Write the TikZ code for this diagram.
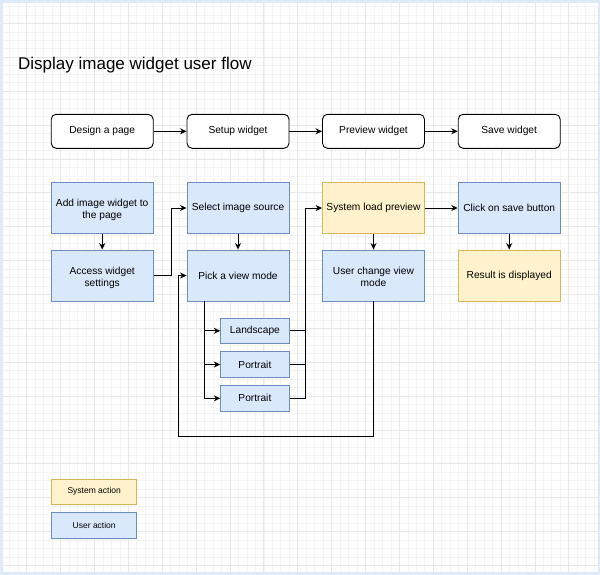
\documentclass[tikz,border=0pt]{standalone}
\usepackage{fontspec}
\setmainfont{Liberation Sans}
\usetikzlibrary{arrows.meta}
\definecolor{ublue}{HTML}{DAE8FC}
\definecolor{ubluedraw}{HTML}{6C8EBF}
\definecolor{syell}{HTML}{FFF2CC}
\definecolor{syelldraw}{HTML}{D6B656}
\definecolor{framecol}{HTML}{DEEAF8}
\definecolor{minorgrid}{HTML}{F4F4F4}
\definecolor{majorgrid}{HTML}{E8E8E8}
\tikzset{
  base/.style={rectangle, inner sep=2pt, align=center, font=\fontsize{10.2}{12.2}\selectfont, line width=0.9pt},
  stage/.style={base, draw=black, fill=white, rounded corners=5pt, minimum width=102pt, minimum height=34pt},
  user/.style={base, draw=ubluedraw, fill=ublue, minimum width=102pt, minimum height=51pt},
  sys/.style={base, draw=syelldraw, fill=syell, minimum width=102pt, minimum height=51pt},
  twoline/.style={text height=21.4pt, text depth=0pt},
  small/.style={base, draw=ubluedraw, fill=ublue, minimum width=68.3pt, minimum height=25.5pt},
  legend/.style={base, minimum width=85pt, minimum height=25.5pt, font=\fontsize{8.5}{10}\selectfont},
  arr/.style={line width=0.9pt, -{Stealth[length=6.5pt,width=6pt]}},
  ln/.style={line width=0.9pt}
}
\begin{document}
\begin{tikzpicture}[x=1pt,y=-1pt]
\useasboundingbox (0,0) rectangle (600,574);
% grid
\begin{scope}
\clip (0,0) rectangle (600,574);
\foreach \i in {0,...,71} {
  \pgfmathsetmacro\xx{1.29+8.47*\i}
  \draw[minorgrid, line width=0.7pt] (\xx,0) -- (\xx,574);
}
\foreach \i in {0,...,68} {
  \pgfmathsetmacro\yy{6.46+8.47*\i}
  \draw[minorgrid, line width=0.7pt] (0,\yy) -- (600,\yy);
}
\foreach \i in {-1,...,17} {
  \pgfmathsetmacro\xx{26.7+33.88*\i}
  \draw[majorgrid, line width=0.8pt] (\xx,0) -- (\xx,574);
}
\foreach \i in {-1,...,17} {
  \pgfmathsetmacro\yy{23.4+33.88*\i}
  \draw[majorgrid, line width=0.8pt] (0,\yy) -- (600,\yy);
}
\end{scope}
\draw[framecol, line width=5pt] (0,0) rectangle (600,574);

% title
\node[anchor=base west, inner sep=0pt, font=\fontsize{17}{20}\selectfont] (title) at (18,69) {Display image widget user flow};

% top row
\node[stage] (design) at (102.2,131.3) {Design a page};
\node[stage] (setup) at (238,131.3) {Setup widget};
\node[stage] (preview) at (373.5,131.3) {Preview widget};
\node[stage] (save) at (509.2,131.3) {Save widget};

% column 1
\node[user, twoline] (add) at (102.2,208) {Add image widget to\\the page};
\node[user, twoline] (access) at (102.2,275.5) {Access widget\\settings};
% column 2
\node[user] (select) at (238,208) {Select image source};
\node[user] (pick) at (238,275.5) {Pick a view mode};
\node[small] (land) at (254.9,330.8) {Landscape};
\node[small] (port1) at (254.9,364.5) {Portrait};
\node[small] (port2) at (254.9,398.3) {Portrait};
% column 3
\node[sys] (sysload) at (373.5,208) {System load preview};
\node[user, twoline] (uchange) at (373.5,275.5) {User change view\\mode};
% column 4
\node[user] (click) at (509.2,208) {Click on save button};
\node[sys] (result) at (509.2,275.5) {Result is displayed};

% legend
\node[legend, draw=syelldraw, fill=syell] (lsys) at (94.2,491.7) {System action};
\node[legend, draw=ubluedraw, fill=ublue] (luser) at (94.2,525.5) {User action};

% connectors
\draw[arr] (design) -- (setup);
\draw[arr] (setup) -- (preview);
\draw[arr] (preview) -- (save);

\draw[arr] (add) -- (access);
\draw[arr] (access.east) -- ++(17.3,0) |- (select.west);
\draw[arr] (select) -- (pick);

\coordinate (pl) at (204.3,300.75);
\draw[ln] (pl) -- (204.3,398.3);
\draw[arr] (pl) |- (land.west);
\draw[arr] (pl) |- (port1.west);
\draw[arr] (pl) |- (port2.west);

\coordinate (jr) at (305.7,330.8);
\draw[ln] (port1.east) -| (jr);
\draw[ln] (port2.east) -| (jr);
\draw[arr] (land.east) -- (jr) |- (sysload.west);

\draw[arr] (sysload) -- (uchange);
\draw[arr] (sysload) -- (click);
\draw[arr] (click) -- (result);

\coordinate (lp) at (178.8,436);
\draw[arr] (uchange.south) |- (lp) |- (pick.west);
\end{tikzpicture}
\end{document}
